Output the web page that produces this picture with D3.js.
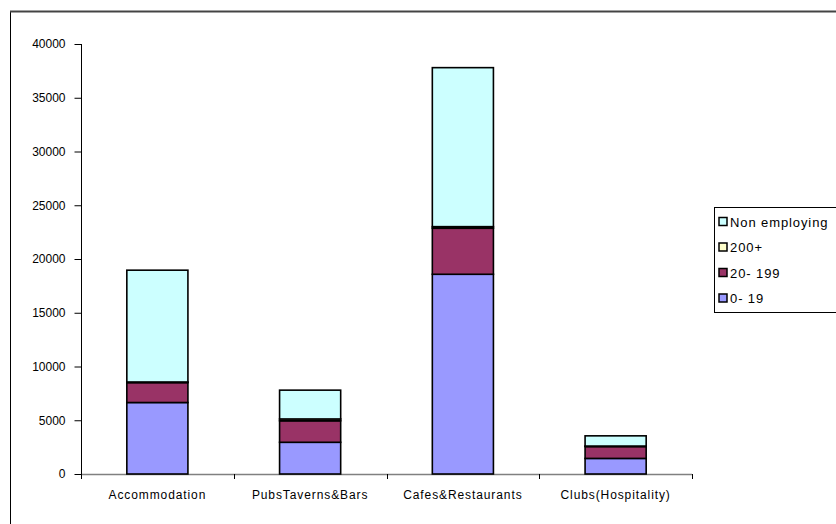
<!DOCTYPE html>
<html>
<head>
<meta charset="utf-8">
<script src="https://cdn.jsdelivr.net/npm/d3@7"></script>
<style>
  html, body { margin: 0; padding: 0; background: #fff; }
  svg { display: block; font-family: "Liberation Sans", Arial, sans-serif; }
</style>
</head>
<body>
<svg id="chart" width="836" height="524"></svg>
<script>
const categories = ["Accommodation", "PubsTaverns&Bars", "Cafes&Restaurants", "Clubs(Hospitality)"];
const seriesNames = ["0-19", "20-199", "200+", "Non employing"];
const seriesColors = ["#9999FF", "#993366", "#FFFFCC", "#CCFFFF"];
const legendLabels = ["Non employing", "200+", "20- 199", "0- 19"];
const values_0_19 = [6650, 2950, 18580, 1450];
const values_20_199 = [1850, 2000, 4280, 1100];
const values_200plus = [60, 170, 150, 50];
const values_nonEmploying = [10400, 2680, 14790, 950];
const yTicks = [0, 5000, 10000, 15000, 20000, 25000, 30000, 35000, 40000];

const svg = d3.select("#chart");

// outer frame
svg.append("rect").attr("x", 10.5).attr("y", 11.5).attr("width", 900).attr("height", 700)
  .attr("fill", "none").attr("stroke", "#000").attr("stroke-width", 1);
svg.append("line").attr("x1", 10).attr("x2", 836).attr("y1", 11.5).attr("y2", 11.5)
  .attr("stroke", "#444").attr("stroke-width", 2);

const plotLeft = 81, plotRight = 692, plotTop = 44, plotBottom = 474;

const x = d3.scaleBand().domain(categories).range([plotLeft, plotRight]).padding(0);
const y = d3.scaleLinear().domain([0, 40000]).range([plotBottom, plotTop]);

const rows = categories.map((c, i) => ({
  cat: c,
  "0-19": values_0_19[i],
  "20-199": values_20_199[i],
  "200+": values_200plus[i],
  "Non employing": values_nonEmploying[i]
}));
const stack = d3.stack().keys(seriesNames)(rows);
const color = d3.scaleOrdinal().domain(seriesNames).range(seriesColors);

const barW = x.bandwidth() * 0.4;

// x axis line (gray)
svg.append("line").attr("x1", plotLeft).attr("x2", plotRight)
  .attr("y1", plotBottom + 0.5).attr("y2", plotBottom + 0.5)
  .attr("stroke", "#808080").attr("stroke-width", 1.5);

// bars
const g = svg.append("g");
stack.forEach(layer => {
  g.selectAll(null).data(layer).enter().append("rect")
    .attr("x", d => x(d.data.cat) + (x.bandwidth() - barW) / 2)
    .attr("width", barW)
    .attr("y", d => y(d[1]))
    .attr("height", d => Math.max(0, y(d[0]) - y(d[1])))
    .attr("fill", color(layer.key))
    .attr("stroke", "#000")
    .attr("stroke-width", 1.6);
});

// y axis
const yAxis = d3.axisLeft(y).tickValues(yTicks).tickSize(7).tickPadding(9).tickFormat(d3.format("d"));
const ya = svg.append("g").attr("transform", `translate(${plotLeft + 0.5},0)`).call(yAxis);
ya.select(".domain").attr("stroke", "#000").attr("d", `M0,${plotTop}V${plotBottom}`);
ya.selectAll(".tick line").attr("stroke", "#000");
ya.selectAll(".tick text").attr("font-size", 12).attr("fill", "#000")
  .attr("font-family", "'Liberation Sans', Arial, sans-serif");

// x ticks at category boundaries
const boundaries = categories.map(c => x(c)).concat([plotRight]);
svg.selectAll(null).data(boundaries).enter().append("line")
  .attr("x1", d => Math.round(d) + 0.5).attr("x2", d => Math.round(d) + 0.5)
  .attr("y1", plotBottom).attr("y2", plotBottom + 5)
  .attr("stroke", "#000").attr("stroke-width", 1);

// x labels
svg.selectAll(null).data(categories).enter().append("text")
  .attr("x", d => x(d) + x.bandwidth() / 2)
  .attr("y", 499)
  .attr("text-anchor", "middle")
  .attr("font-size", 12)
  .style("letter-spacing", "0.9px")
  .attr("fill", "#000")
  .text(d => d);

// legend
const lg = svg.append("g");
lg.append("rect").attr("x", 714.5).attr("y", 207.5).attr("width", 130).attr("height", 105)
  .attr("fill", "#fff").attr("stroke", "#000").attr("stroke-width", 1);
const legendColors = ["#CCFFFF", "#FFFFCC", "#993366", "#9999FF"];
legendLabels.forEach((lab, i) => {
  const cy = 222 + i * 25.5;
  lg.append("rect").attr("x", 719).attr("y", cy - 4.5).attr("width", 8).attr("height", 8)
    .attr("fill", legendColors[i]).attr("stroke", "#000").attr("stroke-width", 1.5);
  lg.append("text").attr("x", 730).attr("y", cy + 4.5).attr("font-size", 13)
    .style("letter-spacing", "0.9px").attr("fill", "#000").text(lab);
});
</script>
</body>
</html>
